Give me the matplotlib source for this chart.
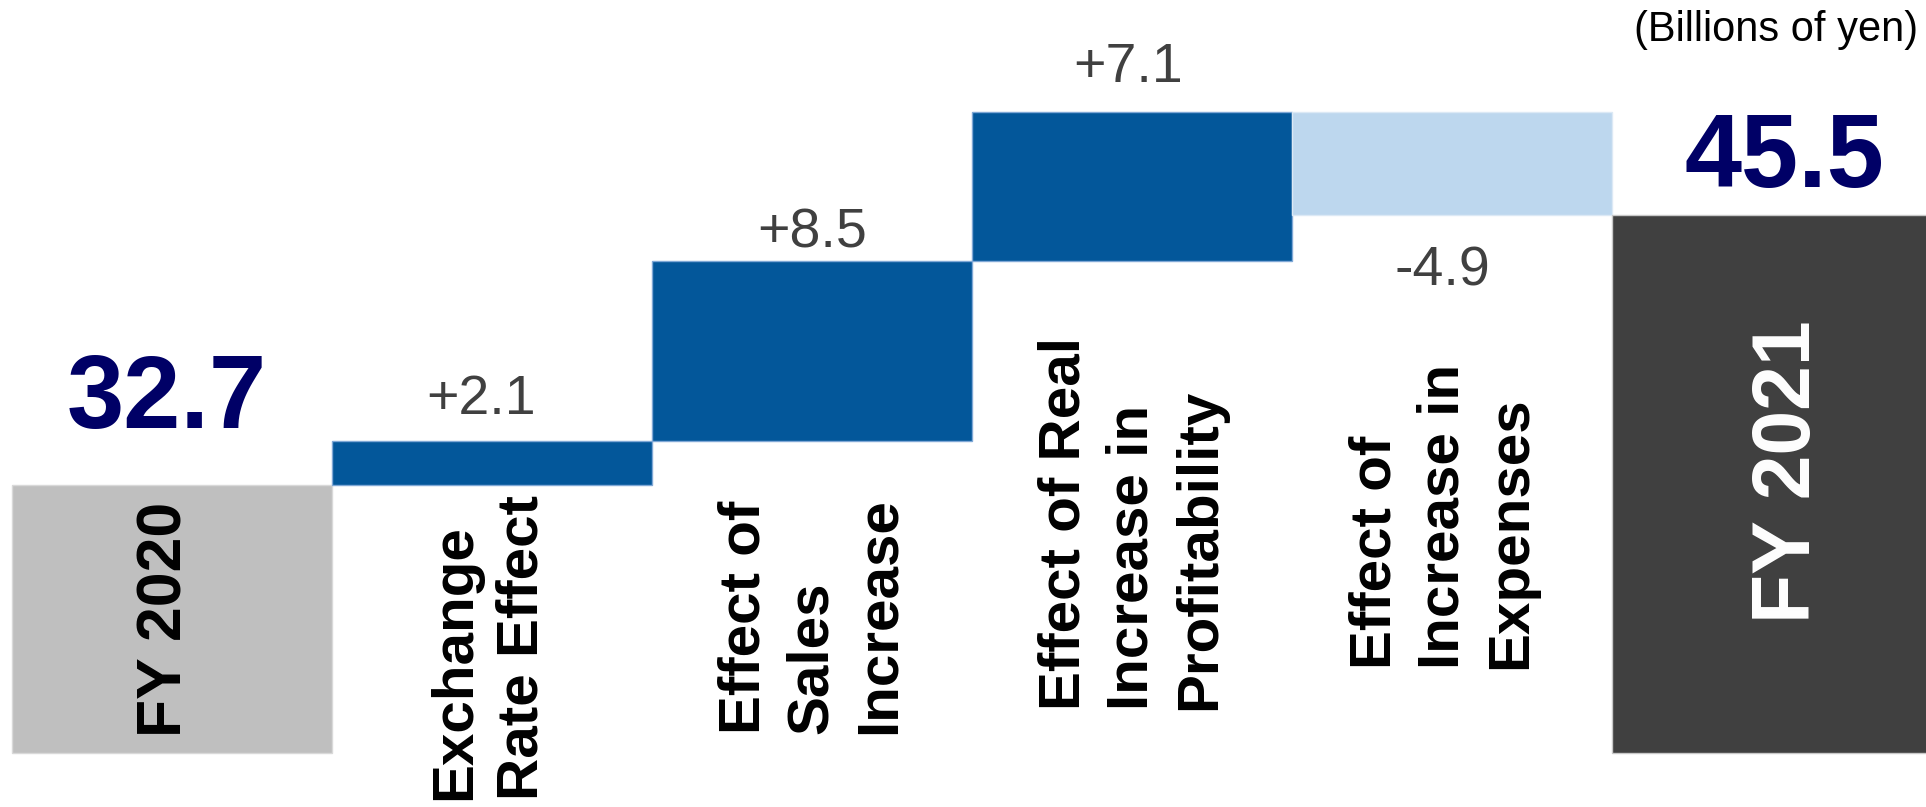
import matplotlib
matplotlib.use('Agg')
import matplotlib.pyplot as plt
import matplotlib.transforms as mtrans

plt.rcParams['font.family'] = ['Liberation Sans', 'DejaVu Sans']

#chart values (billions of yen)
categories = ['FY 2020', 'Exchange\nRate Effect', 'Effect of\nSales\nIncrease',
              'Effect of Real\nIncrease in\nProfitability',
              'Effect of\nIncrease in\nExpenses', 'FY 2021']
start_value = 32.7
changes = [2.1, 8.5, 7.1, -4.9]
end_value = 45.5
axis_base = 20.0      #bars start at 20 (broken axis)

#colours
c_start = '#BFBFBF'
c_up = '#03579A'
c_down = '#BDD7EE'
c_end = '#404040'
c_total_txt = '#000066'
c_change_txt = '#404040'

#create figure filling the whole canvas
fig = plt.figure(figsize=(19.26, 8.07), dpi=100)
ax = fig.add_axes([0, 0, 1, 1])
ax.set_xlim(-0.5375, 5.48)
ax.set_ylim(17.44, 55.69)
ax.axis('off')

#build waterfall bars
bottoms, heights, colors, edges = [], [], [], []
bottoms.append(axis_base)
heights.append(start_value - axis_base)
colors.append(c_start)
edges.append('#D9D9D9')
level = start_value
for ch in changes:
    bottoms.append(min(level, level + ch))
    heights.append(abs(ch))
    colors.append(c_up if ch > 0 else c_down)
    edges.append('#7FA8D6' if ch > 0 else '#DCE9F5')
    level += ch
bottoms.append(axis_base)
heights.append(end_value - axis_base)
colors.append(c_end)
edges.append('#C8C8C8')

xs = list(range(len(categories)))
ax.bar(xs, heights, bottom=bottoms, width=1.0, color=colors,
       edgecolor=edges, linewidth=1.0)

#total value labels
tops = [b + h for b, h in zip(bottoms, heights)]
ax.annotate('%.1f' % start_value, xy=(0, tops[0]), xytext=(-4, 41),
            textcoords='offset points', ha='center', va='baseline',
            fontsize=74, fontweight='bold', color=c_total_txt)
ax.annotate('%.1f' % end_value, xy=(5, tops[5]), xytext=(9, 20),
            textcoords='offset points', ha='center', va='baseline',
            fontsize=74, fontweight='bold', color=c_total_txt)

#change labels (dx, dy in points)
change_offsets = [(-8, 19), (0, 10), (-3, 21.5), (-7, -51)]
for i, ch in enumerate(changes):
    x = i + 1
    dx, dy = change_offsets[i]
    anchor = tops[x] if ch > 0 else bottoms[x]
    ax.annotate('%+.1f' % ch, xy=(x, anchor), xytext=(dx, dy),
                textcoords='offset points', ha='center', va='baseline',
                fontsize=40, color=c_change_txt)

#category labels, rotated
ax.annotate(categories[0], xy=(0, (bottoms[0] + tops[0]) / 2), xytext=(-5, 0),
            textcoords='offset points', rotation=90, ha='center', va='center',
            fontsize=45, fontweight='bold', color='black')
ax.annotate(categories[5], xy=(5, (bottoms[5] + tops[5]) / 2), xytext=(12, 9),
            textcoords='offset points', rotation=90, ha='center', va='center',
            fontsize=58, fontweight='bold', color='white')
blend = mtrans.blended_transform_factory(ax.transData, fig.transFigure)
label_bottom_px = [800, 734, 710, 669]
label_dx_px = [-3, 0, 0, -9]
for i, px in enumerate(label_bottom_px):
    shift = mtrans.offset_copy(blend, fig=fig, x=label_dx_px[i], y=0, units='dots')
    ax.text(i + 1, 1 - px / 807.0, categories[i + 1], transform=shift,
            rotation=90, ha='center', va='bottom', multialignment='left',
            fontsize=42, fontweight='bold', color='black', linespacing=1.32)

#unit note
fig.text(1918 / 1926.0, 1 - 41 / 807.0, '(Billions of yen)', ha='right',
         va='baseline', fontsize=30, color='black')

fig.savefig('out.png', dpi=100)
